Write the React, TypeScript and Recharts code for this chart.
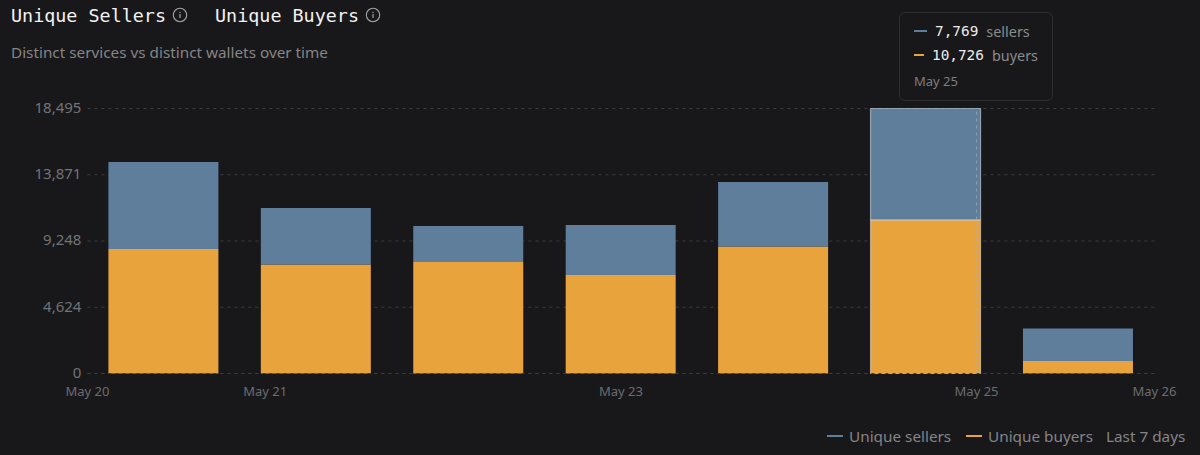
import { BarChart, Bar, XAxis, YAxis, CartesianGrid, Cell, ReferenceLine, Tooltip } from 'recharts';

const days = ['May 20', 'May 21', 'May 22', 'May 23', 'May 24', 'May 25', 'May 26'];
const sellers = [6071, 3943, 2513, 3490, 4502, 7769, 2269];
const buyers = [8690, 7608, 7782, 6875, 8864, 10726, 872];
const yTicks = [0, 4624, 9248, 13871, 18495];
const dateTicks = [0, 1, 3, 5, 6];

const data = days.map((day, i) => ({ day, sellers: sellers[i], buyers: buyers[i] }));
const ACTIVE = 5;

const BG = '#18181b';
const BLUE = '#5f7e9c';
const ORANGE = '#e8a33d';
const SANS = '"Noto Sans", sans-serif';
const MONO = '"DejaVu Sans Mono", monospace';

function InfoIcon({ left }: { left: number }) {
  return (
    <svg width="16" height="16" viewBox="0 0 16 16" style={{ marginLeft: left }}>
      <circle cx="8" cy="8" r="6.7" fill="none" stroke="#a3a3a3" strokeWidth="1.1" />
      <rect x="7.4" y="7" width="1.2" height="4" fill="#a3a3a3" />
      <rect x="7.4" y="4.8" width="1.2" height="1.2" fill="#a3a3a3" />
    </svg>
  );
}

function TipRow({ color, value, label }: { color: string; value: string; label: string }) {
  return (
    <div style={{ display: 'flex', alignItems: 'center', height: 24 }}>
      <span style={{ width: 13, height: 2, background: color, marginRight: 8 }} />
      <span style={{ fontFamily: MONO, fontSize: 14.4, color: '#ececec', marginRight: 8 }}>{value}</span>
      <span style={{ fontSize: 14.4, color: '#8b8b8b' }}>{label}</span>
    </div>
  );
}

function StaticTip() {
  return (
    <div
      style={{
        boxSizing: 'border-box',
        width: 154,
        height: 89,
        padding: '6px 14px',
        background: BG,
        border: '1px solid #2e2e31',
        borderRadius: 6,
        fontFamily: SANS,
      }}
    >
      <TipRow color={BLUE} value={sellers[ACTIVE].toLocaleString('en-US')} label="sellers" />
      <TipRow color={ORANGE} value={buyers[ACTIVE].toLocaleString('en-US')} label="buyers" />
      <div style={{ fontSize: 13, color: '#7d7d7d', marginTop: 5 }}>{days[ACTIVE]}</div>
    </div>
  );
}

export default function App() {
  return (
    <div style={{ position: 'absolute', left: 0, top: 0, width: 1200, height: 455, background: BG, overflow: 'hidden', fontFamily: SANS }}>
      <div style={{ position: 'absolute', left: 11, top: 3, display: 'flex', alignItems: 'center', fontFamily: MONO, fontSize: 18.4, color: '#f2f2f2', height: 24 }}>
        <span>Unique Sellers</span>
        <InfoIcon left={6} />
        <span style={{ marginLeft: 27 }}>Unique Buyers</span>
        <InfoIcon left={6} />
      </div>
      <div style={{ position: 'absolute', left: 11, top: 42, fontSize: 15.3, color: '#858585' }}>
        Distinct services vs distinct wallets over time
      </div>

      <BarChart
        width={1200}
        height={455}
        data={data}
        margin={{ top: 108.5, right: 45.6, left: 0, bottom: 0 }}
        barCategoryGap={42}
        style={{ position: 'absolute', left: 0, top: 0 }}
      >
        <CartesianGrid vertical={false} stroke="#3c3c40" strokeDasharray="3 4" />
        <XAxis dataKey="day" xAxisId="band" hide height={0} />
        <XAxis
          xAxisId="dates"
          type="number"
          domain={[0, 6]}
          ticks={dateTicks}
          tickFormatter={(v: number) => days[v]}
          axisLine={false}
          tickLine={false}
          tick={{ fill: '#6c6c6f', fontSize: 13 }}
          tickMargin={7}
          height={81.5}
          interval={0}
        />
        <YAxis
          type="number"
          domain={[0, 18495]}
          ticks={yTicks}
          tickFormatter={(v: number) => v.toLocaleString('en-US')}
          axisLine={false}
          tickLine={false}
          tick={{ fill: '#737376', fontSize: 15, dx: 2, dy: -1 }}
          width={87.4}
          interval={0}
        />
        <Tooltip
          defaultIndex={ACTIVE}
          cursor={false}
          position={{ x: 899, y: 12 }}
          content={<StaticTip />}
          isAnimationActive={false}
          wrapperStyle={{ transition: 'none' }}
        />
        <Bar dataKey="buyers" xAxisId="band" stackId="a" fill={ORANGE} barSize={110} isAnimationActive={false}>
          {data.map((d, i) => (
            <Cell key={d.day} stroke={i === ACTIVE ? '#f0e6d6' : 'none'} strokeOpacity={0.55} strokeWidth={1.2} />
          ))}
        </Bar>
        <Bar dataKey="sellers" xAxisId="band" stackId="a" fill={BLUE} barSize={110} isAnimationActive={false}>
          {data.map((d, i) => (
            <Cell key={d.day} stroke={i === ACTIVE ? '#c4ced8' : 'none'} strokeOpacity={0.65} strokeWidth={1.2} />
          ))}
        </Bar>
        <ReferenceLine xAxisId="dates" y={0} stroke="#4a3a22" strokeDasharray="3 4" />
        <ReferenceLine xAxisId="dates" x={ACTIVE} stroke="#a9b8c6" strokeOpacity={0.6} strokeDasharray="3 4" segment={[{ x: ACTIVE, y: 10726 }, { x: ACTIVE, y: 18495 }]} />
      </BarChart>

      <div style={{ position: 'absolute', left: 827, top: 426, display: 'flex', alignItems: 'center', fontSize: 15.3, color: '#858585', height: 20, whiteSpace: 'nowrap' }}>
        <span style={{ width: 16, height: 2, background: BLUE, marginRight: 6 }} />
        <span style={{ width: 117 }}>Unique sellers</span>
        <span style={{ width: 16, height: 2, background: ORANGE, marginRight: 6 }} />
        <span style={{ width: 118 }}>Unique buyers</span>
        <span>Last 7 days</span>
      </div>
    </div>
  );
}
